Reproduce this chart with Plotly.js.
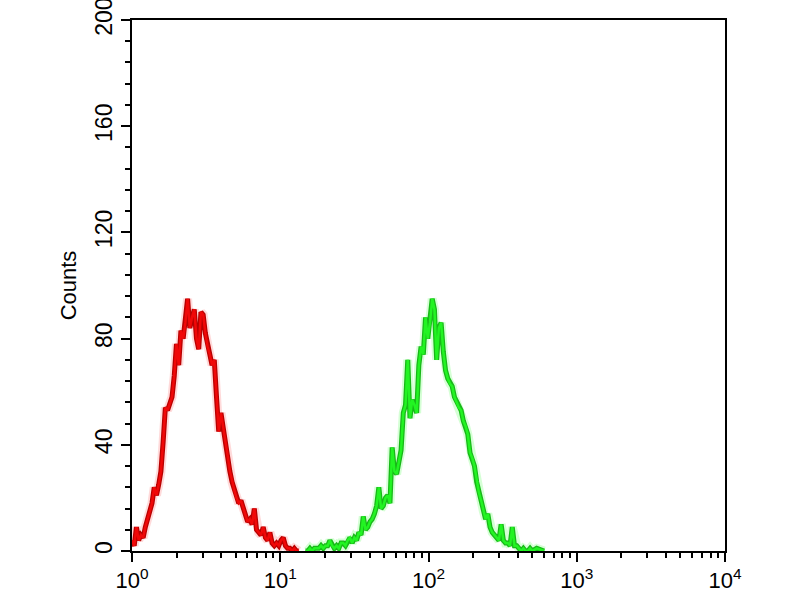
<!DOCTYPE html>
<html>
<head>
<meta charset="utf-8">
<script src="https://cdn.plot.ly/plotly-3.0.1.min.js"></script>
<style>html,body{margin:0;padding:0;background:#fff;}#chart{width:800px;height:600px;}</style>
</head>
<body>
<div id="chart"></div>
<script>
// Red histogram: bin positions (log10 of intensity) and counts
const redLogX = [0.000,0.015,0.030,0.045,0.060,0.075,0.090,0.105,0.120,0.135,0.150,0.165,0.180,0.195,0.210,0.225,0.240,0.255,0.270,0.285,0.300,0.315,0.330,0.345,0.360,0.375,0.390,0.405,0.420,0.435,0.450,0.465,0.480,0.495,0.510,0.525,0.540,0.555,0.570,0.585,0.600,0.615,0.630,0.645,0.660,0.675,0.690,0.705,0.720,0.735,0.750,0.765,0.780,0.795,0.810,0.825,0.840,0.855,0.870,0.885,0.900,0.915,0.930,0.945,0.960,0.975,0.990,1.005,1.020,1.035,1.050,1.065,1.080,1.095,1.110,1.125];
const redCounts = [4,2,9,4,6,5,9,12,14,18,24,21,25,30,41,54,53,56,58,66,78,70,83,80,86,95,84,88,91,80,76,90,89,82,77,74,70,72,58,45,52,46,40,36,30,26,23,20,18,19,16,14,11,12,10,16,8,7,6,9,5,4,7,3,2,3,2,4,5,2,1,1,0,1,0,0];

// Green histogram
const greenLogX = [1.170,1.185,1.200,1.215,1.230,1.245,1.260,1.275,1.290,1.305,1.320,1.335,1.350,1.365,1.380,1.395,1.410,1.425,1.440,1.455,1.470,1.485,1.500,1.515,1.530,1.545,1.560,1.575,1.590,1.605,1.620,1.635,1.650,1.665,1.680,1.695,1.710,1.725,1.740,1.755,1.770,1.785,1.800,1.815,1.830,1.845,1.860,1.875,1.890,1.905,1.920,1.935,1.950,1.965,1.980,1.995,2.010,2.025,2.040,2.055,2.070,2.085,2.100,2.115,2.130,2.145,2.160,2.175,2.190,2.205,2.220,2.235,2.250,2.265,2.280,2.295,2.310,2.325,2.340,2.355,2.370,2.385,2.400,2.415,2.430,2.445,2.460,2.475,2.490,2.505,2.520,2.535,2.550,2.565,2.580,2.595,2.610,2.625,2.640,2.655,2.670,2.685,2.700,2.730,2.780];
const greenCounts = [0,0,1,0,1,1,1,2,1,2,2,4,2,1,2,1,3,3,2,4,5,3,5,4,7,6,13,8,9,11,12,14,17,24,16,17,20,21,18,39,30,29,34,38,52,55,72,50,57,55,52,70,77,74,88,80,86,95,91,72,84,86,75,68,65,63,62,58,56,54,53,49,47,44,37,35,32,26,22,19,15,12,14,9,7,6,5,4,10,4,3,3,2,9,2,2,1,0,1,0,0,1,0,1,0];

// Axis ticks
const xTickVals = [1,10,100,1000,10000];
const xTickText = ['10<sup>0</sup>','10<sup>1</sup>','10<sup>2</sup>','10<sup>3</sup>','10<sup>4</sup>'];
const xMinorVals = [2,3,4,5,6,7,8,9,20,30,40,50,60,70,80,90,200,300,400,500,600,700,800,900,2000,3000,4000,5000,6000,7000,8000,9000];
const yTickVals = [0,40,80,120,160,200];

const toLin = a => a.map(v => Math.pow(10, v));

const FONT = 'Liberation Sans, Arial, sans-serif';

function layer(xs, ys, color, width) {
  return {x: toLin(xs), y: ys, type:'scatter', mode:'lines',
          line:{color:color, width:width}, hoverinfo:'skip', showlegend:false};
}

const traces = [
  layer(redLogX, redCounts, 'rgba(255,150,150,0.35)', 9),
  layer(greenLogX, greenCounts, 'rgba(150,255,150,0.4)', 9),
  layer(redLogX, redCounts, '#b80000', 5),
  layer(greenLogX, greenCounts, '#18b818', 5),
  layer(redLogX, redCounts, '#f00808', 2.5),
  layer(greenLogX, greenCounts, '#22f422', 2.5)
];

const layout = {
  width:800, height:600,
  paper_bgcolor:'#ffffff', plot_bgcolor:'#ffffff',
  margin:{l:132, r:75, t:20, b:49, pad:0},
  showlegend:false,
  font:{family:FONT, color:'#000'},
  xaxis:{
    type:'log', range:[0,4],
    tickmode:'array', tickvals:xTickVals, ticktext:xTickText,
    ticks:'outside', ticklen:9, tickwidth:2, tickcolor:'#000',
    minor:{tickmode:'array', tickvals:xMinorVals, ticks:'outside', ticklen:5, tickwidth:2, tickcolor:'#000', showgrid:false},
    showline:true, linecolor:'#000', linewidth:2, mirror:true,
    showgrid:false, zeroline:false,
    ticklabeloverflow:'allow',
    tickfont:{family:FONT, size:22, color:'#000'}
  },
  yaxis:{
    range:[0,200],
    tickmode:'array', tickvals:yTickVals,
    ticks:'outside', ticklen:9, tickwidth:2, tickcolor:'#000',
    minor:{dtick:8, ticks:'outside', ticklen:5, tickwidth:2, tickcolor:'#000', showgrid:false},
    showline:true, linecolor:'#000', linewidth:2, mirror:true,
    showgrid:false, zeroline:false,
    ticklabeloverflow:'allow',
    tickangle:-90,
    tickfont:{family:FONT, size:23, color:'#000'},
    title:{text:'Counts', font:{family:FONT, size:22, color:'#000'}, standoff:8}
  }
};

Plotly.newPlot('chart', traces, layout, {staticPlot:true, displayModeBar:false});
</script>
</body>
</html>
